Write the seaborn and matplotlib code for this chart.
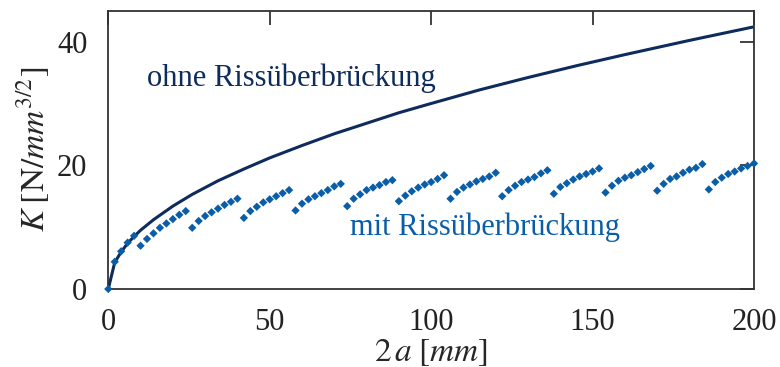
import numpy as np
import pandas as pd
import seaborn as sns
import matplotlib.pyplot as plt

# K without crack bridging
a_ohne = [0, 2, 4, 6, 8, 10, 14, 20, 26, 34, 42, 50, 60, 70, 80, 90, 100,
          115, 130, 145, 160, 180, 200]
K_ohne = [0.0, 4.3, 6.0, 7.4, 8.5, 9.5, 11.2, 13.4, 15.3, 17.5, 19.4, 21.2,
          23.2, 25.1, 26.8, 28.5, 30.0, 32.2, 34.2, 36.1, 37.9, 40.2, 42.4]

# K with crack bridging (dotted sawtooth, one point every 2 mm)
a_mit = list(range(0, 201, 2))
K_mit = [0.0, 4.4, 6.1, 7.5, 8.6,
         7.0, 8.1, 9.0, 9.9, 10.6, 11.3, 12.0, 12.6,
         9.9, 11.0, 11.8, 12.4, 13.0, 13.6, 14.1, 14.6,
         11.5, 12.6, 13.3, 14.0, 14.5, 15.0, 15.5, 16.0,
         12.7, 13.8, 14.5, 15.0, 15.5, 16.0, 16.6, 17.0,
         13.4, 14.6, 15.3, 16.0, 16.4, 16.8, 17.3, 17.6,
         14.2, 15.1, 15.8, 16.4, 16.9, 17.3, 17.8, 18.4,
         14.6, 15.7, 16.4, 16.9, 17.4, 17.8, 18.2, 18.8,
         15.0, 16.0, 16.7, 17.3, 17.7, 18.1, 18.7, 19.2,
         15.4, 16.5, 17.1, 17.7, 18.2, 18.6, 19.0, 19.5,
         15.6, 16.7, 17.5, 18.0, 18.4, 18.9, 19.4, 19.9,
         15.9, 17.0, 17.8, 18.2, 18.8, 19.3, 19.6, 20.2,
         16.1, 17.3, 18.0, 18.6, 19.0, 19.5, 19.9, 20.3]

x_ticks = [0, 50, 100, 150, 200]
y_ticks = [0, 20, 40]

navy = '#0d2b5c'
blue = '#0a5ea8'

sns.set_style('white')
plt.rcParams['font.family'] = ['Liberation Serif', 'DejaVu Serif']
plt.rcParams['mathtext.fontset'] = 'stix'

fig = plt.figure(figsize=(7.8, 3.67), dpi=100)
ax = fig.add_axes([0.1388, 0.2125, 0.8279, 0.7583])

df_ohne = pd.DataFrame({'a': a_ohne, 'K': K_ohne})
df_mit = pd.DataFrame({'a': a_mit, 'K': K_mit})

sns.lineplot(data=df_ohne, x='a', y='K', color=navy, linewidth=2.2, ax=ax)
sns.scatterplot(data=df_mit, x='a', y='K', color=blue, marker='D', s=18,
                edgecolor='none', ax=ax, zorder=3, clip_on=False)

ax.set_xlim(0, 200)
ax.set_ylim(0, 45)
ax.set_xticks(x_ticks)
ax.set_yticks(y_ticks)
ax.tick_params(direction='in', length=10, width=1.2, top=True, right=True,
               labelsize=22, colors='#222222')
ax.tick_params(axis='x', pad=14)
ax.tick_params(axis='y', pad=15)
for s in ax.spines.values():
    s.set_color('#333333')
    s.set_linewidth(1.3)

ax.set_xlabel(r'$2\,a\;[mm]$', fontsize=24, labelpad=0)
ax.set_ylabel(r'$K\;[\mathrm{N}/mm^{3/2}]$', fontsize=24, labelpad=4)

ax.text(12, 34.0, 'ohne Rissüberbrückung', color=navy, fontsize=22, va='center')
ax.text(74.8, 10.0, 'mit Rissüberbrückung', color=blue, fontsize=22, va='center')

fig.savefig('out.png', dpi=100)
